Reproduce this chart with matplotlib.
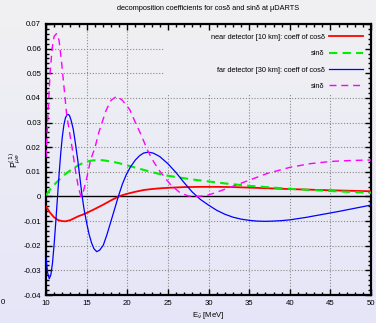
import numpy as np
import matplotlib
matplotlib.use("Agg")
import matplotlib.pyplot as plt
from matplotlib.ticker import MultipleLocator, FuncFormatter

plt.rcParams['font.family'] = ['Liberation Sans', 'DejaVu Sans']
plt.rcParams['axes.unicode_minus'] = False

# near detector, coefficient of cos(delta)
near_cos_e = [10, 10.5, 11, 11.5, 12, 12.4, 13, 13.5, 14, 14.5, 15, 16, 17, 18, 19,
              20, 21, 22, 23, 24, 25, 27, 29, 31, 33, 35, 40, 45, 50]
near_cos = [-0.0040, -0.0066, -0.0085, -0.0096, -0.0100, -0.0101, -0.0096, -0.0088,
            -0.0080, -0.0074, -0.0067, -0.0051, -0.0034, -0.0016, 0.0001,
            0.0011, 0.0019, 0.0026, 0.0030, 0.0033, 0.0035, 0.0038, 0.0039, 0.0039,
            0.0038, 0.0036, 0.0030, 0.0025, 0.0021]

# near detector, coefficient of sin(delta)
near_sin_e = [10, 10.5, 11, 11.5, 12, 12.5, 13, 13.5, 14, 14.5, 15, 15.5, 16.3, 17, 18,
              19, 20, 21, 22, 23, 24, 25, 26, 27, 28, 29, 30, 32, 35, 40, 45, 50]
near_sin = [0.0005, 0.0028, 0.0047, 0.0064, 0.0080, 0.0094, 0.0106, 0.0117, 0.0127,
            0.0135, 0.0141, 0.0145, 0.0148, 0.0147, 0.0142, 0.0135, 0.0126, 0.0117,
            0.0108, 0.0099, 0.0091, 0.0084, 0.0079, 0.0074, 0.0069, 0.0065, 0.0061,
            0.0053, 0.0043, 0.0031, 0.0022, 0.0015]

# far detector, coefficient of cos(delta)
far_cos_e = [10, 10.2, 10.4, 10.6, 10.8, 11, 11.2, 11.4, 11.6, 11.8, 12.0, 12.2, 12.4,
             12.6, 12.75, 12.9, 13.1, 13.36, 13.6, 13.9, 14.15, 14.45, 14.7, 15.0,
             15.3, 15.6, 15.9, 16.24, 16.6, 17.05, 17.5, 18.0, 18.5, 18.9, 19.4, 19.9,
             20.4, 21, 21.5, 22, 22.6, 23.2, 24, 25, 26, 27, 28, 28.6, 29, 30, 31, 32,
             33, 34, 35, 36, 37, 38, 39, 40, 42, 44, 46, 48, 50]
far_cos = [-0.025, -0.031, -0.0334, -0.0318, -0.0270, -0.0195, -0.0105, -0.0010,
           0.0085, 0.0170, 0.0240, 0.0290, 0.0320, 0.0332, 0.0333, 0.0328, 0.0308,
           0.0272, 0.0220, 0.0150, 0.0082, 0.0, -0.0055, -0.0107, -0.0153, -0.0188,
           -0.0212, -0.0224, -0.0218, -0.0198, -0.0155, -0.0100, -0.0045, 0.0,
           0.0050, 0.0090, 0.0120, 0.0148, 0.0165, 0.0176, 0.0180, 0.0176, 0.0162,
           0.0133, 0.0097, 0.0056, 0.0018, 0.0, -0.0012, -0.0035, -0.0056, -0.0072,
           -0.0084, -0.0092, -0.0097, -0.0100, -0.0101, -0.0100, -0.0098, -0.0095,
           -0.0085, -0.0073, -0.0061, -0.0048, -0.0035]

# far detector, coefficient of sin(delta)
far_sin_e = [10, 10.25, 10.5, 10.75, 11, 11.3, 11.6, 11.9, 12.2, 12.55, 12.9, 13.2,
             13.65, 14, 14.3, 14.6, 15.05, 15.5, 16, 16.5, 17, 17.4, 18, 18.7, 19.4,
             20.3, 21, 21.6, 22.6, 23.3, 24, 25.3, 26.5, 27.5, 28.5, 29.3, 30, 31,
             32.65, 35, 37.2, 40, 42.5, 45, 47.5, 50]
far_sin = [0.016, 0.034, 0.050, 0.060, 0.0650, 0.0661, 0.0635, 0.055, 0.045, 0.033,
           0.026, 0.020, 0.010, 0.0035, 0.0, 0.002, 0.008, 0.015, 0.0195, 0.026, 0.031,
           0.035, 0.039, 0.0407, 0.039, 0.0353, 0.030, 0.0258, 0.018, 0.0138, 0.0103,
           0.0049, 0.0015, 0.0002, 0.0, 0.0002, 0.0006, 0.0017, 0.0037, 0.0066,
           0.0093, 0.0118, 0.0133, 0.0142, 0.0146, 0.0148]

labels = ["near detector [10 km]: coeff of cosδ", "sinδ",
          "far detector [30 km]: coeff of cosδ", "sinδ"]

fig = plt.figure(figsize=(3.76, 3.23), dpi=100)

# soft grey-to-lavender background behind everything
bg = fig.add_axes([0, 0, 1, 1], zorder=-10)
top = np.array([0.945, 0.945, 0.950])
bottom = np.array([0.900, 0.900, 0.975])
t = np.linspace(0, 1, 256)[:, None]
grad = (top * (1 - t) + bottom * t)[:, None, :]
bg.imshow(grad, aspect='auto', extent=[0, 1, 0, 1])
bg.set_axis_off()

ax = fig.add_axes([46 / 376, 28 / 323, 325 / 376, 271 / 323])
ax.patch.set_alpha(0)
ax.set_xlim(10, 50)
ax.set_ylim(-0.04, 0.07)

ax.xaxis.set_major_locator(MultipleLocator(5))
ax.xaxis.set_minor_locator(MultipleLocator(1))
ax.yaxis.set_major_locator(MultipleLocator(0.01))
ax.yaxis.set_minor_locator(MultipleLocator(0.002))
ax.yaxis.set_major_formatter(FuncFormatter(lambda v, p: "%g" % round(v, 3)))
ax.tick_params(which='both', direction='in', top=True, right=True, labelsize=5.6,
               width=1.0, color='black')
ax.tick_params(which='major', length=4, pad=3.5)
ax.tick_params(which='minor', length=2)
for s in ax.spines.values():
    s.set_linewidth(1.6)

# dotted grid, kept clear of the key in the upper right
key_x, key_y = 24.4, 0.0417
grid_kw = dict(color='#8a8a8a', lw=0.8, ls=(0, (1, 1.6)), zorder=0.5)
for x in range(15, 50, 5):
    if x < key_x:
        ax.axvline(x, **grid_kw)
    else:
        ax.axvline(x, ymax=(key_y + 0.04) / 0.11, **grid_kw)
for y in np.arange(-0.03, 0.065, 0.01):
    y = round(y, 3)
    if y > key_y:
        ax.axhline(y, xmax=(key_x - 10) / 40, **grid_kw)
    elif y != 0:
        ax.axhline(y, **grid_kw)
ax.axhline(0, color='black', lw=1.0, zorder=1)

ax.plot(near_cos_e, near_cos, color='#ff0000', lw=1.3, label=labels[0], zorder=3)
ax.plot(near_sin_e, near_sin, color='#00ee00', lw=1.5, ls=(0, (4, 2.5)),
        label=labels[1], zorder=3)
ax.plot(far_cos_e, far_cos, color='#0000ff', lw=0.9, label=labels[2], zorder=3)
ax.plot(far_sin_e, far_sin, color='#ff00ff', lw=1.0, ls=(0, (5, 3.5)),
        label=labels[3], zorder=3)

ax.legend(loc='upper right', bbox_to_anchor=(0.985, 0.975), frameon=False,
          markerfirst=False, fontsize=5.3, handlelength=4.6, handletextpad=0.6,
          labelspacing=1.25, borderaxespad=0)

fig.text(208 / 376, 1 - 9 / 323, "decomposition coefficients for cosδ and sinδ at μDARTS",
         ha='center', va='center', fontsize=5.3)
ax.set_xlabel(r"E$_{\bar{\nu}}$ [MeV]", fontsize=5.6)
ax.xaxis.set_label_coords(0.5, -0.055)
ax.set_ylabel(r"P$^{(1)}_{\mu e}$", fontsize=6.3)
ax.yaxis.set_label_coords(-0.07, 0.5)
fig.text(1 / 376, 1 - 303 / 323, "0", ha='left', va='center', fontsize=5.6)

fig.savefig("out.png", dpi=100)
